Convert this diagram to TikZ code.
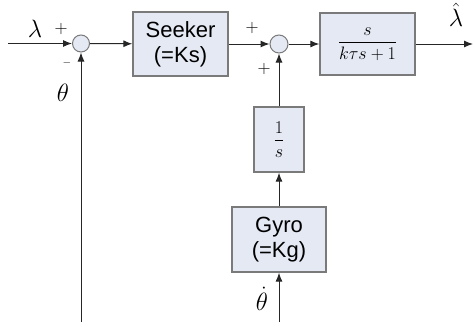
\documentclass[tikz,border=0pt]{standalone}
\usepackage{fix-cm}
\usepackage{fontspec}
\usepackage{amsmath}
\setsansfont{Liberation Sans}
\usetikzlibrary{arrows.meta}
\definecolor{boxfill}{HTML}{E4E9F4}
\definecolor{boxline}{HTML}{7A7A7A}
\tikzset{
  blk/.style={draw=boxline, line width=1.3pt, fill=boxfill, inner sep=0pt, font=\sffamily\fontsize{22}{25}\selectfont, align=center},
  fracblk/.style={blk, font=\fontsize{18}{20}\selectfont},
  sumc/.style={circle, draw=boxline, line width=1pt, fill=boxfill, minimum size=17pt, inner sep=0pt},
  sig/.style={line width=1pt, draw=black!85},
  arr/.style={sig, -{Latex[length=9pt,width=7pt]}},
  lbl/.style={font=\fontsize{18}{20}\selectfont, inner sep=0pt},
  mlbl/.style={font=\fontsize{25}{27}\selectfont, inner sep=0pt}
}
\begin{document}
\begin{tikzpicture}[x=1pt,y=-1pt]
\useasboundingbox (0,0) rectangle (474,322);
% blocks
\node[blk, minimum width=95pt, minimum height=64pt] (seek) at (180.5,44) {Seeker\\(=Ks)};
\node[fracblk, minimum width=95pt, minimum height=62pt] (tf) at (367.5,44) {$\dfrac{s}{k\tau s+1}$};
\node[fracblk, minimum width=50pt, minimum height=65pt] (int) at (279,139.5) {$\dfrac{1}{s}$};
\node[blk, minimum width=94pt, minimum height=65pt] (gyro) at (279,239.5) {Gyro\\(=Kg)};
% sums
\node[sumc] (s1) at (81,43.5) {};
\node[sumc, minimum size=18pt] (s2) at (279,44) {};
% coordinates
\coordinate (in) at (8,43.5);
\coordinate (out) at (473,44);
\coordinate (fb) at (81,322);
\coordinate (gin) at (279,322);
% connectors
\draw[arr] (in) -- (s1);
\draw[arr] (fb) -- (s1);
\draw[arr] (s1) -- (seek);
\draw[arr] (seek) -- (s2);
\draw[arr] (s2) -- (tf);
\draw[arr] (tf) -- (out);
\draw[arr] (gin) -- (gyro);
\draw[arr] (gyro) -- (int);
\draw[arr] (int) -- (s2);
% labels
\node[mlbl] (lam) at (35,29) {$\lambda$};
\node[lbl] (p1) at (61,29) {$+$};
\node[lbl, font=\fontsize{11}{13}\selectfont] (m1) at (67,63) {$-$};
\node[mlbl] (th) at (63,93) {$\theta$};
\node[lbl] (p2) at (252,28) {$+$};
\node[lbl] (p3) at (264,69) {$+$};
\node[mlbl] (lamh) at (456,15) {$\hat{\lambda}$};
\node[mlbl] (thd) at (262,299) {$\dot{\theta}$};
\end{tikzpicture}
\end{document}
